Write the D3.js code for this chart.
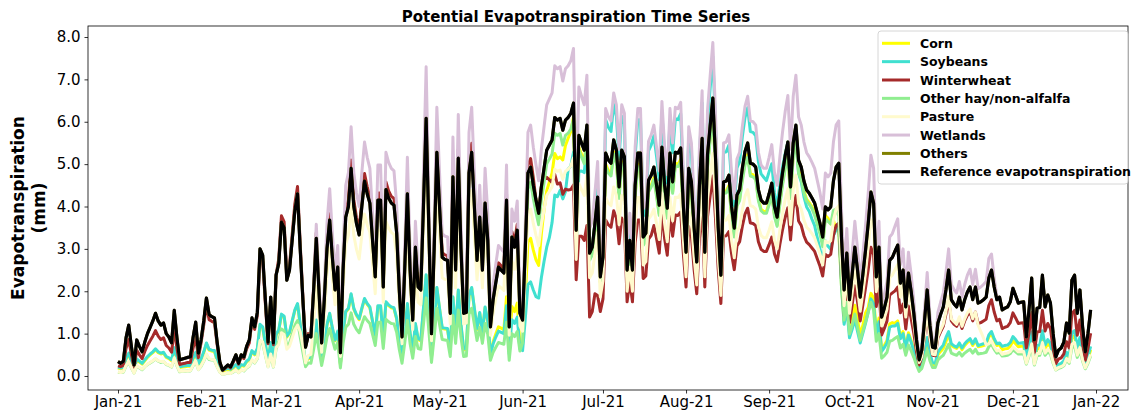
<!DOCTYPE html>
<html>
<head>
<meta charset="utf-8">
<script src="https://cdn.jsdelivr.net/npm/d3@7"></script>
<style>
  body { margin: 0; background: #fff; }
  svg { display: block; font-family: "DejaVu Sans", sans-serif; }
</style>
</head>
<body>
<svg id="chart" width="1132" height="412"></svg>
<script>
// daily values, 1 Jan 2021 .. 30 Dec 2021 (mm/day)
const dates = d3.timeDay.range(new Date(2021, 0, 1), new Date(2021, 11, 31));

const refEt = [
  0.34,0.30,0.35,0.90,1.20,0.70,0.26,0.85,0.70,0.57, 0.80,1.00,1.15,1.30,1.48,1.30,1.20,1.25,1.00,0.92,
  0.78,1.55,0.90,0.38,0.40,0.42,0.44,0.45,0.90,1.27, 0.54,0.85,1.30,1.84,1.45,1.40,1.37,0.80,0.33,0.14,
  0.20,0.26,0.21,0.35,0.50,0.30,0.50,0.45,0.70,0.85, 1.37,1.16,1.50,3.00,2.85,1.80,0.80,1.86,0.78,2.38,
  2.66,3.63,3.50,2.26,2.50,3.20,3.90,4.30,3.00,1.80, 0.68,0.96,0.92,2.00,3.25,2.00,0.78,1.80,3.00,3.68,
  2.80,2.03,2.57,0.55,2.50,3.75,4.00,4.90,4.00,3.60, 3.33,4.00,4.60,4.30,4.08,3.20,2.34,4.15,4.15,2.10,
  4.40,4.20,4.08,4.03,3.37,2.00,0.92,2.50,4.30,2.50, 1.32,3.04,2.10,2.03,4.00,6.08,3.50,1.00,3.00,5.28,
  4.00,2.80,2.75,2.73,1.48,4.70,2.50,5.14,3.00,1.48, 1.50,4.79,5.28,4.00,2.73,3.75,2.50,4.08,3.20,1.16,
  1.80,2.20,2.57,2.50,2.43,4.15,1.16,3.28,3.04,3.44, 1.48,1.32,3.00,4.79,4.93,4.50,4.15,3.84,4.46,4.90,
  5.33,5.45,5.57,6.10,6.04,6.08,5.80,6.04,6.10,6.20, 6.44,3.44,5.68,5.50,5.33,5.92,2.90,3.04,3.60,4.22,
  2.34,2.80,5.26,5.10,5.02,5.57,5.33,4.46,5.33,5.17, 2.50,3.20,2.50,4.50,5.26,5.26,3.28,3.37,4.62,4.74,
  4.93,4.50,4.03,5.40,4.50,3.96,5.26,4.58,5.28,5.26, 5.38,4.00,2.92,4.90,4.58,3.50,2.69,4.50,5.61,2.92,
  5.21,5.90,6.56,5.14,3.50,2.38,4.58,4.60,4.74,4.00, 3.49,4.27,4.40,4.90,5.30,5.50,5.02,5.00,4.93,4.40,
  4.15,4.08,4.08,4.30,4.55,4.00,3.75,4.30,4.79,5.20, 5.52,4.46,5.50,5.92,5.09,4.93,4.60,4.39,4.31,4.20,
  4.08,3.84,3.60,3.28,3.99,3.92,3.99,4.60,4.93,5.02, 3.28,2.03,2.90,1.80,2.40,3.04,2.50,1.86,2.40,2.97,
  3.60,4.34,4.08,2.34,3.04,1.39,1.60,1.86,2.73,2.80, 2.95,3.09,2.19,2.50,1.63,2.43,2.00,1.48,0.85,0.38,
  0.61,1.30,2.03,1.20,0.68,0.66,1.25,1.45,1.63,2.03, 2.50,1.80,1.70,1.63,1.86,1.56,1.80,1.98,2.10,1.80,
  2.10,1.72,1.75,1.80,1.86,2.31,2.50,2.10,1.80,1.86, 1.56,1.60,1.63,1.75,2.07,1.90,1.72,1.74,1.75,0.92,
  1.56,2.31,0.85,1.60,1.62,2.38,1.63,1.91,1.72,1.00, 0.45,0.61,0.66,0.80,1.25,1.01,2.26,2.38,1.48,2.03,
  1.16,0.57,1.00,1.56
];

const cornEt = [
  0.19,0.17,0.19,0.40,0.52,0.33,0.16,0.38,0.33,0.28, 0.36,0.44,0.50,0.55,0.62,0.55,0.52,0.54,0.44,0.41,
  0.36,0.65,0.40,0.20,0.21,0.22,0.23,0.23,0.40,0.54, 0.27,0.38,0.55,0.76,0.61,0.59,0.58,0.36,0.19,0.11,
  0.14,0.16,0.14,0.19,0.25,0.17,0.25,0.23,0.33,0.38, 0.58,0.50,0.63,1.20,1.14,0.74,0.36,0.77,0.36,0.96,
  1.07,1.44,1.39,0.92,1.01,1.28,1.54,1.69,1.20,0.74, 0.32,0.42,0.41,0.82,1.30,0.82,0.36,0.74,1.20,1.46,
  1.12,0.83,1.04,0.27,1.01,1.51,1.58,1.92,1.58,1.43, 1.33,1.58,1.81,1.69,1.61,1.28,0.95,1.64,1.64,0.86,
  1.73,1.66,1.61,1.59,1.34,0.82,0.41,1.01,1.69,1.01, 0.56,1.22,0.86,0.83,1.58,2.37,1.39,0.44,1.20,2.07,
  1.58,1.12,1.11,1.10,0.62,1.85,1.01,2.01,1.20,0.62, 0.63,1.88,2.07,1.58,1.10,1.48,1.01,1.61,1.28,0.50,
  0.81,0.99,1.16,1.13,1.09,1.87,0.58,1.64,1.52,1.72, 0.74,0.73,1.80,3.16,3.25,2.97,2.74,2.61,3.35,3.92,
  4.37,4.58,4.79,5.25,5.13,5.17,5.10,5.44,5.61,5.77, 6.12,3.27,5.40,5.23,5.06,5.62,2.76,2.89,3.42,4.01,
  2.22,2.66,5.00,4.85,4.77,5.29,5.06,4.24,5.06,4.91, 2.38,3.04,2.38,4.28,5.00,5.00,3.12,3.20,4.39,4.50,
  4.68,4.28,3.83,5.13,4.28,3.76,5.00,4.35,5.02,5.00, 5.11,3.80,2.77,4.66,4.35,3.33,2.56,4.28,5.33,2.77,
  4.95,5.61,6.23,4.88,3.33,2.26,4.35,4.37,4.50,3.80, 3.32,4.06,4.18,4.66,5.04,5.23,4.77,4.75,4.68,4.18,
  3.94,3.88,3.88,4.09,4.32,3.80,3.56,4.09,4.55,4.94, 5.24,4.24,5.23,5.62,4.84,4.68,4.37,4.17,4.09,3.99,
  3.88,3.65,3.42,3.12,3.79,3.72,3.59,3.68,3.45,3.41, 2.13,1.26,1.74,1.04,1.34,1.67,1.33,0.97,1.20,1.49,
  1.62,1.95,1.84,1.05,1.37,0.63,0.72,0.84,1.23,1.26, 1.24,1.30,0.92,1.05,0.68,1.02,0.84,0.62,0.36,0.16,
  0.24,0.52,0.81,0.48,0.27,0.26,0.50,0.58,0.65,0.81, 1.00,0.72,0.68,0.65,0.74,0.62,0.72,0.79,0.84,0.72,
  0.84,0.69,0.70,0.72,0.74,0.92,1.00,0.84,0.72,0.74, 0.62,0.64,0.65,0.70,0.83,0.76,0.69,0.70,0.70,0.37,
  0.62,0.92,0.34,0.64,0.65,0.95,0.65,0.76,0.69,0.40, 0.18,0.24,0.26,0.32,0.50,0.40,0.90,0.95,0.59,0.81,
  0.46,0.23,0.40,0.62
];

const soybeanEt = [
  0.21,0.19,0.21,0.42,0.54,0.35,0.18,0.40,0.35,0.30, 0.38,0.46,0.52,0.57,0.64,0.57,0.54,0.56,0.46,0.43,
  0.38,0.67,0.42,0.22,0.23,0.24,0.25,0.25,0.42,0.56, 0.29,0.40,0.57,0.78,0.63,0.61,0.60,0.38,0.21,0.13,
  0.16,0.18,0.16,0.21,0.27,0.19,0.27,0.25,0.35,0.40, 0.60,0.52,0.65,1.22,1.16,0.76,0.38,0.79,0.38,0.98,
  1.09,1.46,1.41,0.94,1.03,1.30,1.56,1.71,1.22,0.76, 0.34,0.44,0.43,0.84,1.32,0.84,0.38,0.76,1.22,1.48,
  1.14,0.85,1.06,0.29,1.03,1.53,1.60,1.94,1.60,1.45, 1.35,1.60,1.83,1.71,1.63,1.30,0.97,1.66,1.66,0.88,
  1.75,1.68,1.63,1.61,1.36,0.84,0.43,1.03,1.71,1.03, 0.58,1.24,0.88,0.85,1.60,2.39,1.41,0.46,1.22,2.09,
  1.60,1.14,1.13,1.12,0.64,1.87,1.03,2.03,1.22,0.64, 0.65,1.90,2.09,1.60,1.12,1.50,1.03,1.63,1.30,0.52,
  0.76,0.92,1.06,1.03,1.00,1.66,0.52,1.33,1.24,1.39, 0.64,0.60,1.35,2.16,2.22,2.03,1.87,1.84,2.32,2.70,
  3.04,3.27,3.62,4.27,4.23,4.38,4.18,4.35,4.88,4.96, 5.28,2.82,4.83,4.84,4.80,5.45,2.76,3.04,3.60,4.43,
  2.53,3.08,6.05,5.87,5.77,6.41,6.13,5.13,6.13,5.95, 2.88,3.68,2.88,5.18,6.05,6.05,3.77,3.88,5.31,5.45,
  5.67,5.18,4.63,6.21,5.18,4.55,6.05,5.27,6.07,6.05, 6.19,4.60,3.36,5.64,5.27,4.03,3.09,5.18,6.45,3.36,
  5.99,6.79,7.54,5.91,4.03,2.74,5.27,5.29,5.45,4.60, 4.01,4.91,5.06,5.64,6.10,6.33,5.77,5.75,5.67,5.06,
  4.77,4.69,4.61,4.82,5.01,4.32,4.01,4.52,4.93,5.25, 5.52,4.37,5.34,5.62,4.78,4.58,4.23,3.99,3.88,3.70,
  3.55,3.26,2.99,2.69,3.19,3.06,2.99,3.31,3.45,3.51, 2.13,1.22,1.60,0.90,1.10,1.34,1.05,0.78,1.01,1.25,
  1.51,1.82,1.71,0.98,1.28,0.58,0.67,0.78,1.15,1.18, 1.18,1.24,0.88,1.00,0.65,0.97,0.80,0.59,0.34,0.15,
  0.27,0.59,0.91,0.54,0.31,0.30,0.56,0.65,0.73,0.91, 1.05,0.76,0.71,0.68,0.78,0.66,0.76,0.83,0.88,0.76,
  0.88,0.72,0.74,0.76,0.78,0.97,1.05,0.88,0.76,0.78, 0.70,0.72,0.73,0.79,0.93,0.86,0.77,0.78,0.79,0.41,
  0.70,1.04,0.38,0.72,0.73,1.07,0.73,0.86,0.77,0.45, 0.20,0.27,0.30,0.36,0.56,0.45,1.02,1.07,0.67,0.91,
  0.52,0.26,0.45,0.70
];

const winterwheatEt = [
  0.24,0.22,0.25,0.65,0.86,0.50,0.19,0.61,0.50,0.41, 0.58,0.72,0.83,0.94,1.07,0.94,0.86,0.90,0.72,0.66,
  0.56,1.12,0.65,0.27,0.29,0.30,0.32,0.32,0.65,0.91, 0.43,0.78,1.20,1.69,1.33,1.29,1.26,0.74,0.30,0.13,
  0.18,0.24,0.19,0.32,0.46,0.28,0.46,0.41,0.64,0.78, 1.30,1.10,1.43,2.85,2.71,1.71,0.76,1.77,0.74,2.38,
  2.77,3.78,3.64,2.35,2.60,3.33,4.06,4.47,3.12,1.87, 0.71,1.00,0.96,2.08,3.38,2.08,0.81,1.87,3.12,3.83,
  2.91,2.11,2.67,0.57,2.60,3.90,4.16,5.10,4.16,3.74, 3.46,4.16,4.78,4.47,4.24,3.33,2.43,4.32,4.32,2.18,
  4.58,4.37,4.24,4.19,3.50,2.08,0.96,2.60,4.47,2.60, 1.37,3.16,2.18,2.11,4.16,6.32,3.64,1.04,3.12,5.49,
  4.16,2.91,2.86,2.84,1.54,4.89,2.60,5.35,3.12,1.54, 1.56,4.98,5.49,4.16,2.84,3.90,2.60,4.24,3.33,1.21,
  1.87,2.29,2.67,2.60,2.53,4.32,1.21,3.41,3.16,3.58, 1.54,1.37,3.12,4.98,5.13,4.68,4.15,3.76,4.46,4.66,
  4.69,4.63,4.57,4.76,4.53,4.56,4.29,4.41,4.39,4.40, 4.51,2.27,3.30,3.30,3.20,3.55,1.39,1.52,1.94,1.90,
  1.52,1.82,3.68,3.57,3.51,3.90,3.73,3.12,3.73,3.62, 1.75,2.24,1.75,3.15,3.68,3.68,2.30,2.36,3.23,3.32,
  3.55,3.24,2.90,3.89,3.24,2.85,3.79,3.30,3.80,3.79, 3.87,2.88,2.10,3.53,3.30,2.52,1.94,3.24,4.04,2.10,
  3.75,4.25,4.72,3.70,2.52,1.71,3.30,3.31,3.41,2.88, 2.51,3.07,3.17,3.53,3.82,3.96,3.61,3.60,3.55,3.17,
  2.99,2.94,2.94,3.10,3.28,2.88,2.70,3.10,3.45,3.74, 3.97,3.21,3.96,4.26,3.66,3.55,3.31,3.16,3.10,3.02,
  2.94,2.76,2.59,2.36,2.87,2.82,2.87,3.31,3.55,3.61, 2.30,1.42,2.03,1.26,1.68,2.13,1.75,1.30,1.68,2.08,
  2.52,3.04,2.86,1.64,2.13,0.97,1.12,1.30,1.91,1.96, 2.01,2.10,1.49,1.70,1.11,1.65,1.36,1.01,0.58,0.26,
  0.44,0.94,1.46,0.86,0.49,0.48,0.90,1.04,1.17,1.46, 1.80,1.30,1.22,1.17,1.34,1.12,1.30,1.43,1.51,1.30,
  1.51,1.24,1.26,1.30,1.34,1.66,1.80,1.51,1.30,1.34, 1.12,1.15,1.17,1.26,1.49,1.37,1.24,1.25,1.26,0.66,
  1.01,1.50,0.55,1.04,1.05,1.55,1.06,1.24,1.12,0.65, 0.29,0.40,0.43,0.52,0.81,0.66,1.47,1.55,0.96,1.32,
  0.75,0.37,0.65,1.01
];

const hayEt = [
  0.09,0.08,0.09,0.24,0.32,0.19,0.07,0.23,0.19,0.15, 0.22,0.27,0.31,0.35,0.40,0.35,0.32,0.34,0.27,0.25,
  0.21,0.42,0.24,0.10,0.11,0.11,0.12,0.12,0.24,0.34, 0.15,0.23,0.35,0.50,0.39,0.38,0.37,0.22,0.09,0.04,
  0.05,0.07,0.06,0.09,0.14,0.08,0.14,0.12,0.19,0.23, 0.37,0.31,0.41,0.81,0.77,0.49,0.22,0.50,0.21,0.64,
  0.82,1.11,1.07,0.70,0.77,0.98,1.19,1.31,0.92,0.56, 0.22,0.31,0.30,0.62,1.00,0.62,0.25,0.56,0.92,1.12,
  0.86,0.63,0.79,0.19,0.77,1.15,1.22,1.49,1.22,1.10, 1.02,1.22,1.40,1.31,1.24,0.98,0.72,1.27,1.27,0.65,
  1.34,1.28,1.24,1.23,1.03,0.62,0.30,0.77,1.31,0.77, 0.42,0.93,0.65,0.63,1.22,1.84,1.07,0.32,0.92,1.60,
  1.22,0.86,0.85,0.84,0.46,1.43,0.77,1.56,0.92,0.46, 0.47,1.46,1.60,1.22,0.84,1.15,0.77,1.24,0.98,0.37,
  0.56,0.68,0.79,0.77,0.75,1.27,0.37,1.00,0.93,1.05, 0.59,0.79,2.40,4.41,4.58,4.19,3.86,3.57,4.15,4.56,
  5.01,5.12,5.24,5.73,5.68,5.72,5.45,5.68,5.73,5.83, 6.05,3.23,5.34,5.17,5.01,5.56,2.73,2.86,3.38,3.97,
  2.20,2.63,4.94,4.79,4.72,5.24,5.01,4.19,5.01,4.86, 2.35,3.01,2.35,4.23,4.94,4.94,3.08,3.17,4.34,4.46,
  4.63,4.23,3.79,5.08,4.23,3.72,4.94,4.31,4.96,4.94, 5.06,3.76,2.74,4.61,4.31,3.29,2.53,4.23,5.27,2.74,
  4.90,5.55,6.17,4.83,3.29,2.24,4.31,4.32,4.46,3.76, 3.28,4.01,4.14,4.61,4.98,5.17,4.72,4.70,4.63,4.14,
  3.90,3.84,3.84,4.04,4.28,3.76,3.53,4.04,4.50,4.89, 5.19,4.19,5.17,5.56,4.78,4.63,4.32,4.13,4.05,3.95,
  3.79,3.57,3.35,3.05,3.71,3.65,3.59,3.91,3.94,3.77, 2.30,1.32,1.74,0.99,1.20,1.46,1.15,0.84,1.06,1.28,
  1.51,1.74,1.55,0.82,1.00,0.42,0.48,0.56,0.82,0.84, 0.89,0.93,0.66,0.75,0.49,0.73,0.60,0.44,0.26,0.11,
  0.18,0.39,0.61,0.36,0.20,0.20,0.38,0.44,0.49,0.61, 0.75,0.54,0.51,0.49,0.56,0.47,0.54,0.59,0.63,0.54,
  0.63,0.52,0.53,0.54,0.56,0.69,0.75,0.63,0.54,0.56, 0.47,0.48,0.49,0.53,0.62,0.57,0.52,0.52,0.53,0.28,
  0.47,0.69,0.26,0.48,0.49,0.71,0.49,0.57,0.52,0.30, 0.14,0.18,0.20,0.24,0.38,0.30,0.68,0.71,0.44,0.61,
  0.35,0.17,0.30,0.47
];

const pastureEt = [
  0.10,0.08,0.10,0.25,0.34,0.20,0.07,0.24,0.20,0.16, 0.22,0.28,0.32,0.36,0.41,0.36,0.34,0.35,0.28,0.26,
  0.22,0.43,0.25,0.11,0.11,0.12,0.12,0.13,0.25,0.36, 0.15,0.24,0.36,0.52,0.41,0.39,0.38,0.22,0.09,0.04,
  0.06,0.07,0.06,0.10,0.14,0.08,0.14,0.13,0.20,0.24, 0.38,0.32,0.42,0.84,0.80,0.50,0.22,0.52,0.22,0.67,
  0.74,1.02,0.98,0.63,0.70,0.90,1.09,1.20,1.05,0.72, 0.31,0.48,0.51,1.20,2.11,1.40,0.56,1.35,2.40,3.02,
  2.32,1.68,2.13,0.46,2.08,3.11,3.32,4.07,3.32,2.99, 2.76,3.32,3.82,3.57,3.39,2.66,1.94,3.44,3.44,1.74,
  3.65,3.49,3.39,3.34,2.80,1.66,0.76,2.08,3.57,2.08, 1.10,2.52,1.74,1.68,3.32,5.05,2.91,0.83,2.49,4.38,
  3.32,2.32,2.28,2.27,1.23,3.90,2.08,4.27,2.49,1.23, 1.25,3.98,4.38,3.32,2.27,3.11,2.08,3.39,2.66,0.96,
  1.49,1.83,2.13,2.08,2.02,3.44,0.96,2.72,2.52,2.86, 1.18,1.06,2.40,3.83,3.94,3.60,3.32,3.07,3.57,3.92,
  4.26,4.36,4.46,4.88,4.83,4.86,4.64,4.83,4.88,4.96, 5.15,2.75,4.54,4.40,4.26,4.74,2.32,2.43,2.88,3.38,
  1.87,2.24,4.21,4.08,4.02,4.46,4.26,3.57,4.26,4.14, 2.00,2.56,2.00,3.60,4.21,4.21,2.62,2.70,3.70,3.79,
  3.94,3.60,3.22,4.32,3.60,3.17,4.21,3.66,4.22,4.21, 4.30,3.20,2.34,3.92,3.66,2.80,2.15,3.60,4.49,2.34,
  4.17,4.72,5.25,4.11,2.80,1.90,3.66,3.68,3.79,3.20, 2.79,3.42,3.52,3.92,4.24,4.40,4.02,4.00,3.94,3.52,
  3.32,3.26,3.26,3.44,3.64,3.20,3.00,3.44,3.83,4.16, 4.42,3.57,4.40,4.74,4.07,3.94,3.68,3.51,3.45,3.36,
  3.26,3.07,2.88,2.62,3.19,3.14,3.19,3.68,3.94,4.02, 2.69,1.66,2.38,1.48,1.97,2.49,2.05,1.53,1.97,2.44,
  3.06,3.69,3.47,1.99,2.58,1.18,1.36,1.58,2.32,2.38, 2.51,2.63,1.86,2.13,1.39,2.07,1.70,1.26,0.72,0.32,
  0.46,0.98,1.52,0.90,0.51,0.50,0.94,1.09,1.22,1.52, 1.88,1.35,1.28,1.22,1.40,1.17,1.35,1.49,1.58,1.35,
  1.51,1.20,1.05,0.90,0.74,0.76,0.83,0.69,0.59,0.61, 0.51,0.53,0.54,0.58,0.68,0.63,0.57,0.57,0.58,0.30,
  0.51,0.76,0.28,0.53,0.53,0.79,0.54,0.63,0.57,0.33, 0.15,0.20,0.22,0.26,0.41,0.33,0.75,0.79,0.49,0.67,
  0.38,0.19,0.33,0.51
];

const wetlandEt = [
  0.34,0.30,0.35,0.90,1.20,0.70,0.26,0.85,0.70,0.57, 0.80,1.00,1.15,1.30,1.48,1.30,1.20,1.25,1.00,0.92,
  0.78,1.55,0.90,0.38,0.40,0.42,0.44,0.45,0.90,1.27, 0.54,0.85,1.30,1.84,1.45,1.40,1.37,0.80,0.33,0.14,
  0.20,0.26,0.21,0.35,0.50,0.30,0.50,0.45,0.70,0.85, 1.37,1.16,1.50,3.00,2.85,1.80,0.80,1.86,0.78,2.38,
  2.66,3.63,3.50,2.26,2.50,3.20,3.90,4.30,3.00,1.80, 0.68,0.96,0.92,2.10,3.58,2.24,0.90,2.12,3.60,4.42,
  3.36,2.44,3.08,0.66,3.00,4.50,4.80,5.88,4.80,4.32, 4.00,4.80,5.52,5.16,4.90,3.84,2.81,4.98,4.98,2.52,
  5.28,5.04,4.90,4.84,4.04,2.40,1.10,3.00,5.16,3.00, 1.58,3.65,2.52,2.44,4.80,7.30,4.20,1.20,3.60,6.34,
  4.80,3.36,3.30,3.28,1.78,5.64,3.00,6.17,3.60,1.78, 1.80,5.75,6.34,4.80,3.28,4.50,3.00,4.90,3.84,1.39,
  2.16,2.64,3.08,3.00,2.92,4.98,1.39,3.94,3.65,4.13, 1.78,1.58,3.60,5.75,5.92,5.40,4.98,4.61,5.35,5.88,
  6.40,6.54,6.68,7.32,7.25,7.30,6.96,7.25,7.32,7.44, 7.73,4.13,6.82,6.60,6.40,7.10,3.48,3.65,4.32,5.06,
  2.81,3.36,6.31,6.12,6.02,6.68,6.40,5.35,6.40,6.20, 3.00,3.84,3.00,5.40,6.31,6.31,3.94,4.04,5.54,5.69,
  5.92,5.40,4.84,6.48,5.40,4.75,6.31,5.50,6.34,6.31, 6.46,4.80,3.50,5.88,5.50,4.20,3.23,5.40,6.73,3.50,
  6.25,7.08,7.87,6.17,4.20,2.86,5.50,5.52,5.69,4.80, 4.19,5.12,5.28,5.88,6.36,6.60,6.02,6.00,5.92,5.28,
  4.98,4.90,4.90,5.16,5.46,4.80,4.50,5.16,5.75,6.24, 6.62,5.35,6.60,7.10,6.11,5.92,5.52,5.27,5.17,5.04,
  4.90,4.61,4.32,3.94,4.79,4.70,4.79,5.52,5.92,6.02, 3.94,2.44,3.48,2.16,2.88,3.65,3.00,2.23,2.88,3.56,
  4.32,5.21,4.90,2.81,3.65,1.67,1.92,2.23,3.28,3.36, 3.54,3.71,2.63,3.00,1.96,2.92,2.40,1.78,1.02,0.46,
  0.73,1.56,2.44,1.44,0.82,0.79,1.50,1.74,1.96,2.44, 3.00,2.16,2.04,1.96,2.23,1.87,2.16,2.38,2.52,2.16,
  2.52,2.06,2.10,2.16,2.23,2.77,2.88,2.31,1.89,1.86, 1.56,1.60,1.63,1.75,2.07,1.90,1.72,1.74,1.75,0.92,
  1.56,2.31,0.85,1.60,1.62,2.38,1.63,1.91,1.72,1.00, 0.45,0.61,0.66,0.80,1.25,1.01,2.26,2.38,1.48,2.03,
  1.16,0.57,1.00,1.56
];

// "Others" sits exactly under the reference line in the picture
const othersEt = refEt.slice();

const seriesNames = ["Corn", "Soybeans", "Winterwheat", "Other hay/non-alfalfa",
                     "Pasture", "Wetlands", "Others", "Reference evapotranspiration"];
const seriesValues = [cornEt, soybeanEt, winterwheatEt, hayEt, pastureEt, wetlandEt, othersEt, refEt];
const seriesColors = ["#ffff00", "#40e0d0", "#a52a2a", "#90ee90", "#fffacd", "#d8bfd8", "#808000", "#000000"];

const tickLabels = ["Jan-21","Feb-21","Mar-21","Apr-21","May-21","Jun-21","Jul-21",
                    "Aug-21","Sep-21","Oct-21","Nov-21","Dec-21","Jan-22"];
const yTicks = [0, 1, 2, 3, 4, 5, 6, 7, 8];

const svg = d3.select('#chart');
const box = {left: 88, right: 1128, top: 26, bottom: 390};

const x = d3.scaleTime()
  .domain([new Date(2021, 0, 1), new Date(2022, 0, 1)])
  .range([118, 1096]);
const y = d3.scaleLinear().domain([0, 8]).range([376, 37]);

// lines
const line = d3.line()
  .x((d, i) => x(dates[i]))
  .y((d) => y(d));

seriesValues.forEach((vals, k) => {
  svg.append('path')
    .datum(vals)
    .attr('d', line)
    .attr('fill', 'none')
    .attr('stroke', seriesColors[k])
    .attr('stroke-width', k === 7 ? 3.2 : 3)
    .attr('stroke-linejoin', 'round');
});

// frame
svg.append('rect')
  .attr('x', box.left).attr('y', box.top)
  .attr('width', box.right - box.left).attr('height', box.bottom - box.top)
  .attr('fill', 'none').attr('stroke', '#000').attr('stroke-width', 0.8);

// axes
const tickDates = d3.timeMonth.range(new Date(2021, 0, 1), new Date(2022, 0, 2));
const xAxis = svg.append('g')
  .attr('transform', `translate(0,${box.bottom})`)
  .call(d3.axisBottom(x).tickValues(tickDates)
    .tickFormat((d, i) => tickLabels[i]).tickSize(3.5).tickPadding(3));
const yAxis = svg.append('g')
  .attr('transform', `translate(${box.left},0)`)
  .call(d3.axisLeft(y).tickValues(yTicks).tickFormat(d3.format('.1f'))
    .tickSize(3.5).tickPadding(4));

[xAxis, yAxis].forEach(g => {
  g.select('.domain').remove();
  g.selectAll('.tick line').attr('stroke', '#000').attr('stroke-width', 0.8);
  g.selectAll('.tick text')
    .attr('fill', '#000')
    .style('font-family', '"DejaVu Sans", sans-serif')
    .style('font-size', '15px');
});

// title and axis label
svg.append('text')
  .attr('x', 576).attr('y', 22)
  .attr('text-anchor', 'middle')
  .style('font-size', '15px').style('font-weight', 'bold')
  .text('Potential Evapotranspiration Time Series');

const ylab = svg.append('text')
  .attr('transform', 'translate(24,208) rotate(-90)')
  .attr('text-anchor', 'middle')
  .style('font-size', '17px').style('font-weight', 'bold');
ylab.append('tspan').attr('x', 0).attr('dy', 0).text('Evapotranspiration');
ylab.append('tspan').attr('x', 0).attr('dy', 21).text('(mm)');

// legend
const legend = svg.append('g').attr('transform', 'translate(878,31)');
legend.append('rect')
  .attr('width', 250).attr('height', 153).attr('rx', 3)
  .attr('fill', '#fff').attr('fill-opacity', 0.8)
  .attr('stroke', '#cccccc').attr('stroke-width', 0.8);

const rows = legend.selectAll('g.item')
  .data(seriesNames)
  .enter()
  .append('g')
  .attr('class', 'item')
  .attr('transform', (d, i) => `translate(0,${12.3 + i * 18.35})`);

rows.append('line')
  .attr('x1', 4).attr('x2', 32)
  .attr('stroke', (d, i) => seriesColors[i])
  .attr('stroke-width', 3);

rows.append('text')
  .attr('x', 42).attr('y', 4.5)
  .style('font-size', '12.5px').style('font-weight', 'bold')
  .text(d => d);
</script>
</body>
</html>
